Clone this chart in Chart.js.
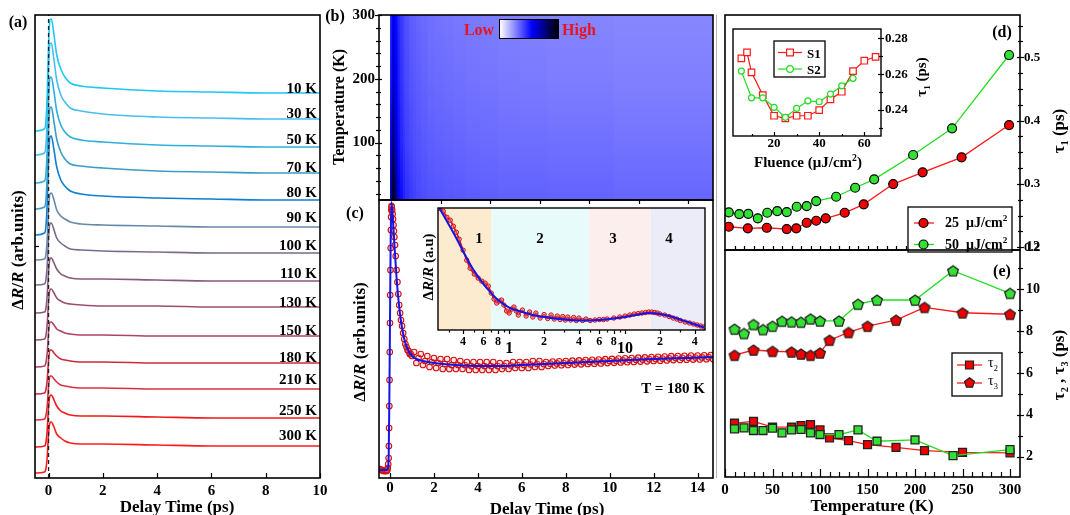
<!DOCTYPE html>
<html><head><meta charset="utf-8">
<script src="https://cdn.jsdelivr.net/npm/chart.js@4.4.1/dist/chart.umd.min.js"></script>
<style>
html,body{margin:0;padding:0;background:#fff;}
#wrap{position:relative;width:1070px;height:515px;overflow:hidden;background:#fff;font-family:'Liberation Serif','Times New Roman',serif;}
#wrap canvas{position:absolute;left:0;top:0;}
.t{position:absolute;white-space:nowrap;font-weight:bold;color:#000;line-height:1;}
.cbar{position:absolute;left:499px;top:19px;width:58px;height:18px;border:1.5px solid #000;background:linear-gradient(to right,#fff 0%,#0000ff 55%,#000 100%);}
.vline{position:absolute;left:716px;top:15px;width:1px;height:463px;background:#b4b4b4;}
</style></head><body>
<div id="wrap">
<div class="vline"></div>
<canvas id="cA" width="1070" height="515"></canvas>
<canvas id="cB" width="1070" height="515"></canvas>
<canvas id="cC" width="1070" height="515"></canvas>
<canvas id="cC2" width="1070" height="515"></canvas>
<canvas id="cD" width="1070" height="515"></canvas>
<canvas id="cD2" width="1070" height="515"></canvas>
<canvas id="cE" width="1070" height="515"></canvas>
<div class="cbar"></div>
</div>
<script>
// ================= DATA =================
// Panel (a): transient traces (arb. units, offset per temperature)
const timeA = [-0.5,-0.15,-0.1,-0.05,0,0.05,0.1,0.2,0.3,0.45,0.6,0.8,1.2,2,4,6,8,10];
const tempLabelsA = ['10 K','30 K','50 K','70 K','80 K','90 K','100 K','110 K','130 K','150 K','180 K','210 K','250 K','300 K'];
const a10K  = [347,349,356,383,433,458,459,443,423,409,401,395,392,390,387,386,385,385];
const a30K  = [323,325,332,359,409,434,435,418,398,383,376,370,367,364,361,360,359,359];
const a50K  = [295,297,303,329,377,400,401,386,367,353,346,341,338,336,333,332,331,331];
const a70K  = [269,271,277,302,348,370,371,356,339,326,319,314,312,310,307,306,305,305];
const a80K  = [243,245,251,275,319,341,342,328,311,298,292,287,284,282,280,279,278,278];
const a90K  = [218,219,223,239,270,284,285,278,268,262,259,256,254,253,252,251,251,251];
const a100K = [193,194,198,213,241,254,255,248,240,235,232,229,228,227,226,225,225,225];
const a110K = [165,166,169,183,207,219,220,215,209,204,202,200,199,199,198,197,197,197];
const a130K = [138,139,142,154,177,188,189,185,180,177,175,174,173,172,172,171,171,171];
const a150K = [111,112,115,125,146,156,156,153,149,147,145,144,143,143,142,142,142,142];
const a180K = [84,85,88,98,118,128,128,125,122,119,118,117,116,116,115,115,115,115];
const a210K = [58,59,62,72,92,102,102,99,96,93,92,91,90,90,89,89,89,89];
const a250K = [31,32,35,48,71,82,83,78,72,67,65,63,62,62,61,60,60,60];
const a300K = [5,6,9,21,44,55,56,51,44,40,37,35,34,34,33,32,32,32];
const tracesA = [a10K,a30K,a50K,a70K,a80K,a90K,a100K,a110K,a130K,a150K,a180K,a210K,a250K,a300K];
const ticksAX = [0,2,4,6,8,10];

// Panel (b): heat map, normalized intensity 0..1 per time segment, read at 10, 100, 200, 300 K
const heatEdges = [-0.5,-0.06,0.0,0.05,0.1,0.15,0.2,0.27,0.35,0.45,0.55,0.7,0.85,1.0,1.2,1.45,1.75,2.1,2.5,3,3.6,4.3,5.2,6.3,7.6,9,11,13];
const heatStopTemps = [10,100,200,300];
const heatAt10  = [0,0.62,0.95,0.97,0.90,0.78,0.64,0.54,0.48,0.44,0.41,0.39,0.375,0.36,0.35,0.34,0.335,0.33,0.325,0.32,0.315,0.31,0.31,0.305,0.305,0.30,0.30];
const heatAt100 = [0,0.50,0.75,0.78,0.70,0.60,0.53,0.47,0.43,0.40,0.375,0.36,0.345,0.335,0.325,0.315,0.31,0.305,0.30,0.295,0.29,0.285,0.285,0.28,0.28,0.275,0.275];
const heatAt200 = [0,0.44,0.57,0.60,0.56,0.51,0.48,0.44,0.405,0.375,0.355,0.335,0.325,0.315,0.305,0.295,0.29,0.285,0.28,0.275,0.27,0.265,0.26,0.255,0.255,0.25,0.25];
const heatAt300 = [0,0.42,0.52,0.54,0.52,0.49,0.46,0.42,0.39,0.36,0.34,0.32,0.31,0.30,0.29,0.28,0.275,0.27,0.265,0.26,0.255,0.25,0.245,0.24,0.24,0.235,0.235];
const ticksBY = [100,200,300];

// Panel (c): T = 180 K trace and fit
const cTimes = [-0.5,-0.45,-0.4,-0.35,-0.3,-0.25,-0.2,-0.15,-0.12,-0.1,-0.08,-0.06,-0.05,-0.04,-0.03,-0.02,-0.01,0,0.01,0.02,0.03,0.04,0.05,0.06,0.07,0.08,0.1,0.12,0.14,0.16,0.18,0.2,0.23,0.26,0.3,0.34,0.38,0.42,0.46,0.5,0.55,0.6,0.65,0.7,0.75,0.8,0.85,0.9,0.95,
 1.0,1.1,1.2,1.3,1.4,1.5,1.6,1.7,1.8,1.9,2.0,2.1,2.2,2.3,2.4,2.5,2.6,2.7,2.8,2.9,3.0,3.1,3.2,3.3,3.4,3.5,3.6,3.7,3.8,3.9,4.0,4.1,4.2,4.3,4.4,4.5,4.6,4.7,4.8,4.9,
 5.0,5.1,5.2,5.3,5.4,5.5,5.6,5.7,5.8,5.9,6.0,6.1,6.2,6.3,6.4,6.5,6.6,6.7,6.8,6.9,7.0,7.1,7.2,7.3,7.4,7.5,7.6,7.7,7.8,7.9,8.0,8.1,8.2,8.3,8.4,8.5,8.6,8.7,8.8,8.9,
 9.0,9.1,9.2,9.3,9.4,9.5,9.6,9.7,9.8,9.9,10.0,10.1,10.2,10.3,10.4,10.5,10.6,10.7,10.8,10.9,11.0,11.1,11.2,11.3,11.4,11.5,11.6,11.7,11.8,11.9,
 12.0,12.1,12.2,12.3,12.4,12.5,12.6,12.7,12.8,12.9,13.0,13.1,13.2,13.3,13.4,13.5,13.6,13.7,13.8,13.9,14.0,14.1,14.2,14.3,14.4,14.5,14.6,14.7,14.8];
const cData = [9,9,8,8,7,7,7,7,8,10,14,20,32,50,72,98,126,155,183,208,230,248,261,268,272,271,268,264,259,253,247,241,233,222,208,196,184,173,165,158,152,145,139,134,131,128,127,124,124,
 122,126,115,120,124,113,117,122,111,116,120,110,115,119,109,114,119,109,113,118,109,113,117,109,113,116,108,112,116,108,112,116,108,112,116,108,112,116,108,112,
 115,109,112,115,109,112.5,116,110,113,116,110,113,116,110,113.5,117,111,114,117,111,114,116,112,114.3,116.4,112.5,114.6,116.7,112.8,114.9,117,113.1,115.2,117.3,113.4,115.5,117.6,113.7,115.8,117.9,
 114,116.1,118.2,114.3,116.4,118.5,114.6,116.7,118.8,114.9,117,119.1,115.2,117.3,119.4,115.5,117.6,119.7,115.8,117.9,120,116.1,118.2,120.3,116.4,118.5,120.6,116.7,118.8,120.9,
 117,119.1,121.2,117.3,119.4,121.5,117.6,119.7,121.8,117.9,120,122,118.1,120.2,122.2,118.3,120.3,122.4,118.4,120.5,122.5,118.6,120.6,122.7,118.8,120.8,122.9,118.9,121];
const cFitTimes = [-0.5,-0.15,-0.1,-0.06,-0.03,0,0.03,0.06,0.1,0.15,0.2,0.3,0.4,0.5,0.6,0.7,0.8,1.0,1.2,1.5,2,3,4,5,6,8,10,12,14.7];
const cFit = [8,8,9,22,75,155,235,276,268,252,234,200,175,157,144,135,129,122,119,117,115,113,112,112,113,115,117,119,121];
const ticksCX = [0,2,4,6,8,10,12,14];

// Panel (c) inset: log time axis
const insTimes = [0.25,0.27,0.29,0.31,0.33,0.35,0.37,0.4,0.43,0.46,0.5,0.54,0.58,0.62,0.66,0.7,0.74,0.78,0.82,0.86,0.9,0.95,1.0,1.05,1.1,1.15,1.2,1.3,1.4,1.5,1.6,1.7,1.85,2.0,2.15,2.3,2.45,2.6,2.75,2.9,3.05,3.2,3.4,3.6,3.8,4.0,4.3,4.6,5,5.5,6,6.5,7,8,9,10,11,12,13,14,15,16,17,18,19,20,22,24,26,28,30,33,36,39,42,45,48];
const insData = [122,119,113,110,104,98,91,80,70,62,56,52,49,47,44,37,31,27,29,30,25,19,17,21,23,19,15,20,14,18,13,17,12,15.5,11.5,15,11,14,10.5,13.5,10,13,10,12.5,9.5,12,9.5,11,9.5,10,10.5,10.5,11,12,13,14,15,16,16.5,17,17.5,18,18,17.5,17,16,15,13.5,12,11,9.5,8,7,6,5,4,3];
const insFitTimes = [0.25,0.3,0.35,0.4,0.45,0.5,0.6,0.7,0.8,1.0,1.3,1.6,2,3,4,5,6,8,10,13,16,20,25,30,35,40,48];
const insFit = [122,106,92,79,68,59,46,37,30,22.5,18,15,13,10.5,9.5,9.5,10,11.5,13,15.5,17,16,13.5,10.5,8,5.5,2.5];
const insRegionEdges = [0.243,0.705,4.9,16.7,49];
const insTickVals = [0.3,0.4,0.5,0.6,0.7,0.8,0.9,1,2,3,4,5,6,7,8,9,10,20,30,40];

// Panel (d): tau1 vs temperature
const dTemp25 = [4,24,44,65,75,86,96,106,126,146,177,208,249,299];
const dTau25  = [0.2324,0.2299,0.2308,0.2288,0.2299,0.2387,0.2419,0.2457,0.2545,0.2678,0.2998,0.3183,0.342,0.393];
const dTemp50 = [4,15,24.5,34.5,44.5,55,65,75.5,86,96,117,137,157,198,239,299];
const dTau50  = [0.2551,0.2524,0.2529,0.2457,0.2545,0.2572,0.2556,0.264,0.2651,0.273,0.2798,0.294,0.3073,0.3457,0.3878,0.5036];
const ticksDY = [0.2,0.3,0.4,0.5];
// Panel (d) inset: tau1 vs fluence
const fluS1 = [5.5,8,10,15,20,25,30,35,40,45,50,55,60,65];
const tauS1 = [0.2688,0.2722,0.261,0.2483,0.2368,0.2353,0.2368,0.2368,0.2399,0.2459,0.2502,0.2617,0.2675,0.2697];
const fluS2 = [5.5,10,15,20,25,30,35,40,45,50,55];
const tauS2 = [0.2617,0.2468,0.2468,0.2415,0.2359,0.2409,0.2451,0.2446,0.2489,0.2535,0.2577];
const ticksD2X = [20,40,60];
const ticksD2Y = [0.24,0.26,0.28];

// Panel (e): tau2, tau3 vs temperature
const eTempRed = [10,30,50,70,80,90,100,110,130,150,180,210,250,300];
const tau2Red = [3.60,3.69,3.41,3.41,3.49,3.54,3.28,2.90,2.77,2.58,2.45,2.29,2.21,2.18];
const tau3Red = [6.85,7.10,7.04,7.01,6.91,6.85,6.96,7.57,7.94,8.24,8.53,9.14,8.88,8.81];
const eTempGreen = [10,20,30,40,50,60,70,80,90,100,120,140,160,200,240,300];
const tau2Green = [3.33,3.38,3.25,3.25,3.36,3.14,3.28,3.30,3.14,3.06,3.06,3.28,2.74,2.80,2.05,2.34];
const tau3Green = [8.10,7.89,8.32,8.08,8.24,8.48,8.45,8.43,8.59,8.49,8.49,9.29,9.49,9.49,10.89,9.81];
const ticksEX = [0,50,100,150,200,250,300];
const ticksEY = [2,4,6,8,10,12];

// ================= STYLE / HELPERS =================
const FONT = "'Liberation Serif','Times New Roman',serif";
Chart.defaults.font.family = FONT;
const colorsA = ['#1ec8f2','#46bff0','#2fb0dc','#3b9dc6','#0e7fd2','#6689a8','#7a6b8c','#8a5a7b','#9b4f6e','#ae4462','#cc2b3e','#d83040','#ef1a1a','#ff1c1c'];
const RED='#ee0000', GREEN='#33e033';
const xy = (xs, ys) => xs.map((x,i)=>({x, y:ys[i]}));

function drawMarker(ctx, style, x, y, r, fill, stroke, lw){
  ctx.save(); ctx.beginPath();
  if(style==='circle') ctx.arc(x,y,r,0,Math.PI*2);
  else if(style==='square') ctx.rect(x-r,y-r,2*r,2*r);
  else if(style==='pent'){ for(let i=0;i<5;i++){const a=-Math.PI/2+i*2*Math.PI/5; const px=x+r*Math.cos(a), py=y+r*Math.sin(a); if(i) ctx.lineTo(px,py); else ctx.moveTo(px,py);} ctx.closePath(); }
  if(fill){ctx.fillStyle=fill;ctx.fill();}
  if(stroke){ctx.strokeStyle=stroke;ctx.lineWidth=lw||1;ctx.stroke();}
  ctx.restore();
}
function pentImg(fill){ const c=document.createElement('canvas'); c.width=14;c.height=14; drawMarker(c.getContext('2d'),'pent',7,7.6,5.6,fill,'#222',1.3); return c; }
const pentRed = pentImg(RED), pentGreen = pentImg(GREEN);

function heatColor(v){
  if(v<=0.5){const c=Math.round(255*(1-v/0.5)); return `rgb(${c},${c},255)`;}
  const f=Math.min(1,(v-0.5)/0.5); return `rgb(0,0,${Math.round(255*(1-f))})`;
}

const FR = {};
const framePlugin = {
  id:'frame',
  beforeDatasetsDraw(chart){
    const o = FR[chart.canvas.id]; if(!o) return;
    const {ctx, chartArea:A} = chart;
    ctx.save();
    if(o.bg){ ctx.fillStyle=o.bg; ctx.fillRect(A.left,A.top,A.right-A.left,A.bottom-A.top); }
    if(o.bands){ const sc=chart.scales.x; o.bands.forEach(b=>{ const p0=sc.getPixelForValue(b.from), p1=sc.getPixelForValue(b.to); ctx.fillStyle=b.color; ctx.fillRect(p0,A.top,p1-p0,A.bottom-A.top); }); }
    ctx.restore();
  },
  afterDraw(chart){
    const o = FR[chart.canvas.id]; if(!o) return;
    const {ctx, chartArea:A} = chart;
    ctx.save(); ctx.strokeStyle='#000';
    (o.ticks||[]).forEach(s=>{
      const sc = chart.scales[s.scale]; ctx.lineWidth = s.w||1.2;
      s.vals.forEach(v=>{
        const p = Math.round(sc.getPixelForValue(v))+0.5, inn=s.inn||0, out=s.out||0;
        ctx.beginPath();
        if(s.edge==='bottom'){ctx.moveTo(p,A.bottom+out);ctx.lineTo(p,A.bottom-inn);}
        if(s.edge==='top'){ctx.moveTo(p,A.top-out);ctx.lineTo(p,A.top+inn);}
        if(s.edge==='left'){ctx.moveTo(A.left-out,p);ctx.lineTo(A.left+inn,p);}
        if(s.edge==='right'){ctx.moveTo(A.right+out,p);ctx.lineTo(A.right-inn,p);}
        ctx.stroke();
      });
    });
    if(o.border!==false){ ctx.lineWidth=o.bw||1.6; ctx.strokeRect(A.left,A.top,A.right-A.left,A.bottom-A.top); }
    if(o.legend){
      const L=o.legend, b=L.box;
      ctx.fillStyle='#fff'; ctx.fillRect(b[0],b[1],b[2]-b[0],b[3]-b[1]);
      ctx.lineWidth=1.3; ctx.strokeStyle='#000'; ctx.strokeRect(b[0],b[1],b[2]-b[0],b[3]-b[1]);
      L.items.forEach(it=>{
        ctx.beginPath(); ctx.strokeStyle=it.color; ctx.lineWidth=it.lw||1.3; ctx.moveTo(it.x0,it.y); ctx.lineTo(it.x1,it.y); ctx.stroke();
        drawMarker(ctx,it.style,it.mx,it.y,it.r,it.fill,it.stroke,it.slw||1.2);
      });
    }
    ctx.restore();
  }
};

function ax(o){
  const s = {type:o.type||'linear', min:o.min, max:o.max, display:!!o.ticks, offset:false,
    grid:{display:false, drawTicks:false}, border:{display:false}};
  if(o.pos) s.position=o.pos;
  if(o.ticks){
    s.ticks = {font:o.font, color:'#000', padding:(o.pad===undefined?4:o.pad), autoSkip:false, maxRotation:0, minRotation:0};
    if(o.cb) s.ticks.callback=o.cb;
    const vals=o.ticks;
    s.afterBuildTicks = sc => { sc.ticks = vals.map(v=>({value:v})); };
    s.afterFit = sc => {
      if(sc.isHorizontal()) sc.height=0; else sc.width=0;
      sc.paddingLeft=sc.paddingRight=sc.paddingTop=sc.paddingBottom=0;
      sc._computeLabelArea = function(){ return undefined; };   // labels live outside the zero-size axis box
    };
  }
  return s;
}
function mk(id, type, area, datasets, scales, extra){
  const options = Object.assign({
    responsive:false, animation:false, events:[], devicePixelRatio:1,
    layout:{autoPadding:false, padding:{left:area[0], top:area[1], right:1070-area[2], bottom:515-area[3]}},
    plugins:{legend:{display:false}, tooltip:{enabled:false}},
    scales
  }, extra||{});
  return new Chart(document.getElementById(id), {type, data:{datasets}, options, plugins:[framePlugin]});
}
const bf = (size, extra) => Object.assign({family:FONT, weight:'bold', size}, extra||{});
const range = (a,b,s) => { const r=[]; for(let v=a; v<=b+1e-9; v+=s) r.push(+v.toFixed(4)); return r; };

// ================= PANEL (a) =================
FR.cA = {ticks:[{scale:'x',edge:'bottom',vals:ticksAX,inn:5},{scale:'y',edge:'left',vals:[232],inn:4}], bw:1.6};
mk('cA','line',[35,15,320,478],
  [{data:[{x:0,y:0},{x:0,y:463}], borderColor:'#222', borderWidth:1.3, borderDash:[4,3], pointRadius:0}]
  .concat(tracesA.map((arr,i)=>({data:xy(timeA,arr), borderColor:colorsA[i], borderWidth:1.6, pointRadius:0, cubicInterpolationMode:'monotone'}))),
  {x:ax({min:-0.5,max:10,ticks:ticksAX,font:bf(15),pad:4}), y:ax({min:0,max:463})});

// ================= PANEL (b) =================
FR.cB = {ticks:[{scale:'x',edge:'bottom',vals:[2,4,6,8,10,12],inn:1,out:4},
  {scale:'y',edge:'left',vals:ticksBY,inn:3,out:4},{scale:'y',edge:'left',vals:[20,40,60,80,120,140,160,180,220,240,260,280],inn:2,out:3}], bw:1.6};
function heatFill(s){
  return (ctx)=>{
    const ch=ctx.chart, A=ch.chartArea; if(!A) return 'rgba(0,0,0,0)';
    const ys=ch.scales.y, g=ch.ctx.createLinearGradient(0,A.bottom,0,A.top);
    const vals=[heatAt10[s],heatAt100[s],heatAt200[s],heatAt300[s]];
    heatStopTemps.forEach((T,i)=>{ const f=(A.bottom-ys.getPixelForValue(T))/(A.bottom-A.top); g.addColorStop(Math.min(1,Math.max(0,f)), heatColor(vals[i])); });
    return g;
  };
}
// each segment is painted from its start time to the right edge; later segments are drawn on top (no seams)
const heatSets = heatEdges.slice(0,-1).map((t0,s)=>({data:[{x:t0,y:300},{x:heatEdges[heatEdges.length-1],y:300}], borderWidth:0, pointRadius:0,
    fill:{value:10}, backgroundColor:heatFill(s)}));
mk('cB','line',[379,15,713,200], heatSets.reverse(),
  {x:ax({min:-0.5,max:13}), y:ax({min:10,max:300,ticks:ticksBY,font:bf(15),pad:4,pos:'left'})});

// ================= PANEL (c) =================
FR.cC = {ticks:[{scale:'x',edge:'bottom',vals:ticksCX,inn:5}], bw:1.6};
mk('cC','line',[379,200,713,478],
  [{data:xy(cFitTimes,cFit), borderColor:'#1414e6', borderWidth:2, pointRadius:0, cubicInterpolationMode:'monotone'},
   {data:xy(cTimes,cData), showLine:false, pointRadius:2.8, pointBorderWidth:1.1, pointBorderColor:'#d01010', pointBackgroundColor:'rgba(240,150,150,0.25)'}],
  {x:ax({min:-0.5,max:14.7,ticks:ticksCX,font:bf(15),pad:1}), y:ax({min:0,max:278})});

const mant = v => { const e=Math.floor(Math.log10(v)+1e-9); return Math.round(v/Math.pow(10,e)); };
FR.cC2 = {bands:[{from:insRegionEdges[0],to:insRegionEdges[1],color:'#fdebd0'},{from:insRegionEdges[1],to:insRegionEdges[2],color:'#e8fbfb'},
  {from:insRegionEdges[2],to:insRegionEdges[3],color:'#fdeeee'},{from:insRegionEdges[3],to:insRegionEdges[4],color:'#ececf9'}],
  ticks:[{scale:'x',edge:'bottom',vals:insTickVals.filter(v=>mant(v)===1||mant(v)%2===0),out:4},{scale:'x',edge:'bottom',vals:insTickVals.filter(v=>mant(v)!==1&&mant(v)%2===1),out:2.5}], bw:1.4};
mk('cC2','line',[438,208,705,330],
  [{data:xy(insFitTimes,insFit), borderColor:'#1414e6', borderWidth:2, pointRadius:0, cubicInterpolationMode:'monotone'},
   {data:xy(insTimes,insData), borderColor:'#d01010', borderWidth:1.6, pointRadius:2.2, pointBorderWidth:1, pointBorderColor:'#d01010', pointBackgroundColor:'rgba(240,120,120,0.5)', tension:0.3}],
  {x:ax({type:'logarithmic',min:0.243,max:49,ticks:insTickVals,pad:4.5,
      font:(c)=>{ const v=c.tick?c.tick.value:1; return mant(v)===1? bf(16,{lineHeight:0.6}) : bf(12,{lineHeight:1.2}); },
      cb:(v)=>{ const m=mant(v); if(m===1) return ['', String(Math.round(v))]; return m%2===0? String(m):''; }}),
   y:ax({min:0,max:122.3})});

// ================= PANEL (d) =================
FR.cD = {ticks:[{scale:'x',edge:'bottom',vals:range(10,300,10),inn:4},
  {scale:'y',edge:'right',vals:ticksDY,inn:3,out:4},{scale:'y',edge:'right',vals:[0.225,0.25,0.275,0.325,0.35,0.375,0.425,0.45,0.475,0.525,0.55],inn:2,out:3}],
  legend:{box:[908,207,1012,252], items:[
    {y:223,x0:914,x1:934,mx:923.5,color:'#ff1a1a',style:'circle',r:4.5,fill:RED,stroke:'#000'},
    {y:244.5,x0:914,x1:934,mx:923.5,color:'#22dd22',style:'circle',r:4.5,fill:GREEN,stroke:'#000'}]}, bw:1.6};
mk('cD','line',[725,15,1020,250],
  [{data:xy(dTemp50,dTau50), borderColor:'#22dd22', borderWidth:1.3, pointRadius:4.5, pointBackgroundColor:GREEN, pointBorderColor:'#000', pointBorderWidth:1.2},
   {data:xy(dTemp25,dTau25), borderColor:'#ff1a1a', borderWidth:1.3, pointRadius:4.5, pointBackgroundColor:RED, pointBorderColor:'#000', pointBorderWidth:1.2}],
  {x:ax({min:0,max:310.5}), y:ax({min:0.1957,max:0.5668,ticks:ticksDY,font:bf(13),pad:4,pos:'right',cb:v=>v.toFixed(1)})});

FR.cD2 = {bg:'#fff', ticks:[{scale:'x',edge:'bottom',vals:ticksD2X,inn:4},{scale:'x',edge:'bottom',vals:[10,30,50],inn:2},
  {scale:'y',edge:'right',vals:ticksD2Y,inn:3,out:3},{scale:'y',edge:'right',vals:[0.23,0.25,0.27],inn:2,out:2}],
  legend:{box:[774,41,825,77], items:[
    {y:52.5,x0:778,x1:802,mx:790,color:'#ff1a1a',lw:1.2,style:'square',r:3.4,fill:'#fff',stroke:'#ff1a1a',slw:1.2},
    {y:69,x0:778,x1:802,mx:790,color:'#22dd22',lw:1.2,style:'circle',r:3.3,fill:'#fff',stroke:'#22dd22',slw:1.2}]}, bw:1.4};
mk('cD2','line',[733,29,881,136],
  [{data:xy(fluS2,tauS2), borderColor:'#22dd22', borderWidth:1.2, pointRadius:3, pointBackgroundColor:'#fff', pointBorderColor:'#22dd22', pointBorderWidth:1.2},
   {data:xy(fluS1,tauS1), borderColor:'#ff1a1a', borderWidth:1.2, pointStyle:'rect', pointRadius:4.6, pointBackgroundColor:'#fff', pointBorderColor:'#ff1a1a', pointBorderWidth:1.2}],
  {x:ax({min:1.8,max:67.4,ticks:ticksD2X,font:bf(13,{lineHeight:1.1}),pad:0}),
   y:ax({min:0.2255,max:0.2852,ticks:ticksD2Y,font:bf(13),pad:4,pos:'right',cb:v=>v.toFixed(2)})});

// ================= PANEL (e) =================
FR.cE = {ticks:[{scale:'x',edge:'bottom',vals:ticksEX,inn:8},{scale:'x',edge:'bottom',vals:range(10,300,10).filter(v=>v%50),inn:5},
  {scale:'y',edge:'right',vals:[2,4,6,8,10],inn:3,out:4},{scale:'y',edge:'right',vals:[3,5,7,9,11],inn:2,out:3}],
  legend:{box:[952,353,1002,396], items:[
    {y:365,x0:957,x1:982,mx:969.5,color:'#ff1a1a',style:'square',r:4,fill:RED,stroke:'#222'},
    {y:383,x0:957,x1:982,mx:969.5,color:'#ff1a1a',style:'pent',r:5.2,fill:RED,stroke:'#222'}]}, bw:1.6};
mk('cE','line',[725,250,1020,477],
  [{data:xy(eTempGreen,tau2Green), borderColor:'#22dd22', borderWidth:1.3, pointStyle:'rect', pointRadius:5.6, pointBackgroundColor:GREEN, pointBorderColor:'#222', pointBorderWidth:1.3},
   {data:xy(eTempGreen,tau3Green), borderColor:'#22dd22', borderWidth:1.3, pointStyle:pentGreen, pointRadius:6},
   {data:xy(eTempRed,tau2Red), borderColor:'#ff1a1a', borderWidth:1.3, pointStyle:'rect', pointRadius:5.6, pointBackgroundColor:RED, pointBorderColor:'#222', pointBorderWidth:1.3},
   {data:xy(eTempRed,tau3Red), borderColor:'#ff1a1a', borderWidth:1.3, pointStyle:pentRed, pointRadius:6}],
  {x:ax({min:0,max:310.5,ticks:ticksEX,font:bf(15),pad:4}),
   y:ax({min:1.03,max:11.88,ticks:ticksEY,font:bf(14),pad:6,pos:'right',cb:v=>String(v)})});

// ================= TEXT =================
const wrap = document.getElementById('wrap');
function lab(html, x, y, o){
  o=o||{}; const d=document.createElement('div'); d.className='t'; d.innerHTML=html;
  d.style.left=x+'px'; d.style.top=y+'px'; d.style.fontSize=(o.size||16)+'px';
  if(o.color) d.style.color=o.color;
  if(o.weight) d.style.fontWeight=o.weight;
  const tx = o.align==='r'?'-100%':(o.align==='l'?'0%':'-50%');
  d.style.transform=`translate(${tx},-50%)`+(o.rot?` rotate(${o.rot}deg)`:'');
  wrap.appendChild(d);
}
const dRR = 'Δ<i>R</i>/<i>R</i>';
lab('(a)',18,22,{size:16});
lab(dRR+' (arb.units)',17,250,{size:17,rot:-90});
lab('Delay Time (ps)',177,506,{size:17});
const labelYA=[88,113,139,167,192,217,245,273,302,330,357,379,410,435];
tempLabelsA.forEach((t,i)=>lab(t,317,labelYA[i],{size:15,align:'r'}));
lab('(b)',335,16,{size:16});
lab('Temperature (K)',339,107,{size:16,rot:-90});
lab('Low',479,30,{size:16,color:'#e8141c'});
lab('High',579,30,{size:16,color:'#e8141c'});
lab('(c)',355,213,{size:16});
lab(dRR+' (arb.units)',359,342,{size:17,rot:-90});
lab('Delay Time (ps)',547,508,{size:17});
lab('T = 180 K',673,388,{size:15});
lab(dRR+' (a.u)',428,267,{size:15,rot:-90});
lab('1',479,238,{size:15});
lab('2',540,238,{size:15});
lab('3',613,238,{size:15});
lab('4',669,238,{size:15});
lab('(d)',1002,32,{size:16});
lab('τ<sub style="font-size:60%">1</sub> (ps)',1060,131,{size:17,rot:-90});
lab('Fluence (μJ/cm<sup style="font-size:65%">2</sup>)',808,161,{size:15});
lab('τ<sub style="font-size:60%">1</sub> (ps)',923,77,{size:15,rot:-90});
lab('S1',807,52.5,{size:13,align:'l'});
lab('S2',807,69,{size:13,align:'l'});
lab('25&nbsp; μJ/cm<sup style="font-size:65%">2</sup>',945,222,{size:14,align:'l'});
lab('50&nbsp; μJ/cm<sup style="font-size:65%">2</sup>',945,243.5,{size:14,align:'l'});
lab('(e)',1002,271,{size:16});
lab('τ<sub style="font-size:60%">2</sub> , τ<sub style="font-size:60%">3</sub> (ps)',1060,365,{size:17,rot:-90});
lab('Temperature (K)',872,505,{size:17});
lab('τ<sub style="font-size:60%">2</sub>',988,365,{size:14,align:'l',weight:'normal'});
lab('τ<sub style="font-size:60%">3</sub>',988,383,{size:14,align:'l',weight:'normal'});
</script>
</body></html>
